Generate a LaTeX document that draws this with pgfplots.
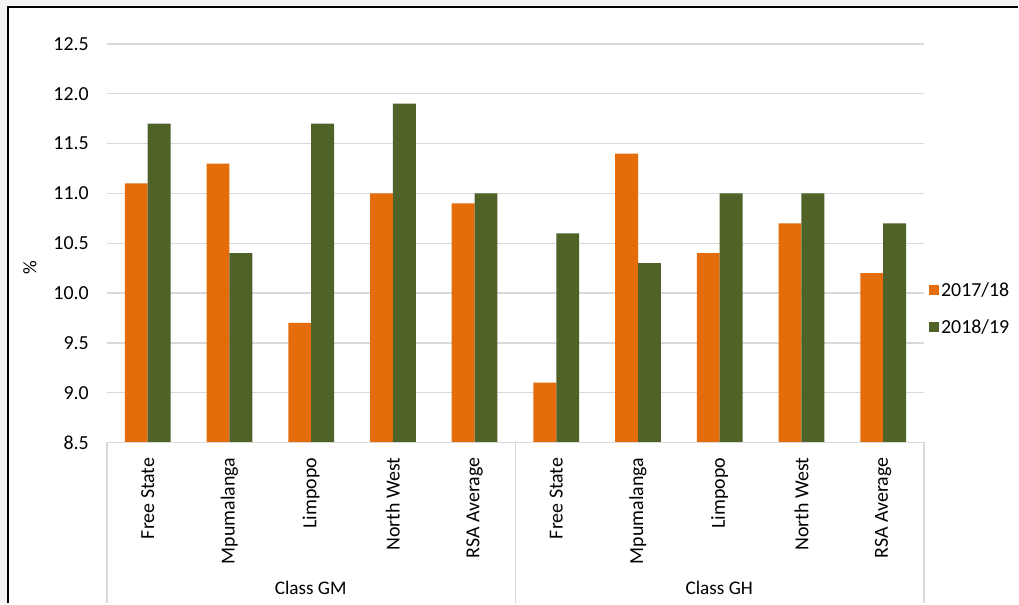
\documentclass[border=0pt]{standalone}
\usepackage{pgfplots}
\pgfplotsset{compat=1.18}
\usepackage{fontspec}
\setmainfont{Carlito}
\definecolor{orng}{HTML}{E46C0A}
\definecolor{grn}{HTML}{4F6228}
\definecolor{grd}{HTML}{D9D9D9}
\definecolor{outside}{HTML}{F6F4F3}
\newcommand\cf{\fontsize{19.3}{23}\selectfont}
\newcommand\tf{\fontsize{20}{24}\selectfont}
\newcommand\lf{\fontsize{20}{24}\selectfont}
\begin{document}
\begin{tikzpicture}[x=1bp,y=1bp]
% page and frame
\fill[white] (0,0) rectangle (1019,604);
\fill[outside] (0,0) rectangle (7,604);
\fill[outside] (0,598) rectangle (1019,604);
\draw[line width=2.2bp] (8,0) -- (8,597) -- (1019,597);
\begin{axis}[
    at={(107bp,161bp)}, anchor=south west,
    scale only axis, width=818bp, height=399bp,
    ybar, bar width=0.28,
    xmin=-0.5, xmax=9.5,
    ymin=8.5, ymax=12.5,
    xtick={0,...,9},
    xticklabels={Free State,Mpumalanga,Limpopo,North West,RSA Average,
                 Free State,Mpumalanga,Limpopo,North West,RSA Average},
    xticklabel style={rotate=90, anchor=east, inner sep=0pt, xshift=-15bp},
    ytick={8.5,9,...,12.5},
    /pgf/number format/fixed,
    /pgf/number format/fixed zerofill,
    /pgf/number format/precision=1,
    /pgf/number format/assume math mode=true,
    yticklabel style={inner sep=0pt, xshift=-18bp},
    tick label style={font=\tf},
    major tick length=0pt,
    axis line style={draw=none},
    ymajorgrids, grid style={grd, line width=1.4bp},
    legend style={at={(1.006,0.336)}, anchor=west, draw=none, fill=none,
                  font=\lf, row sep=18bp, inner sep=0pt},
    legend cell align=left,
    legend image code/.code={\fill[#1] (0bp,-5bp) rectangle (10bp,5bp);},
]
\addplot[fill=orng, draw=none, bar shift=-0.14] coordinates {
    (0,11.1) (1,11.3) (2,9.7) (3,11.0) (4,10.9)
    (5,9.1) (6,11.4) (7,10.4) (8,10.7) (9,10.2)};
\addlegendentry{2017/18}
\addplot[fill=grn, draw=none, bar shift=0.14] coordinates {
    (0,11.7) (1,10.4) (2,11.7) (3,11.9) (4,11.0)
    (5,10.6) (6,10.3) (7,11.0) (8,11.0) (9,10.7)};
\addlegendentry{2018/19}
\end{axis}
% category box below the plot
\draw[grd, line width=1.4bp] (107,0) -- (107,161) -- (925,161) -- (925,0);
\draw[grd, line width=1.4bp] (516,0) -- (516,161);
\node[font=\cf] at (311,15) {Class GM};
\node[font=\cf] at (720,15) {Class GH};
\node[rotate=90, font=\cf] at (30,336) {\%};
\end{tikzpicture}
\end{document}
